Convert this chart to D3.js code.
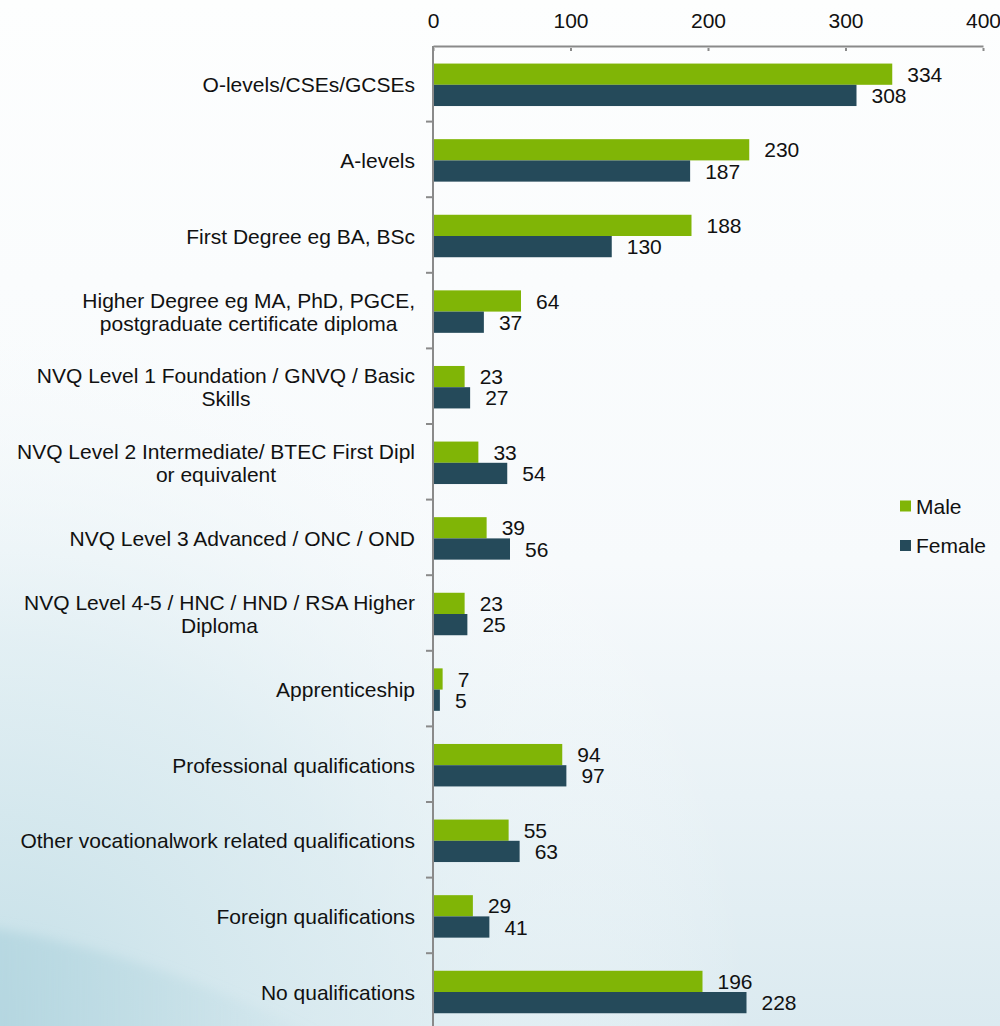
<!DOCTYPE html>
<html>
<head>
<meta charset="utf-8">
<script src="https://cdn.jsdelivr.net/npm/d3@7"></script>
<style>
  body { margin: 0; background: #fff; }
  svg { display: block; font-family: "Liberation Sans", Arial, sans-serif; }
</style>
</head>
<body>
<svg id="chart" width="1000" height="1026"></svg>
<script>
const categories = [
    ['O-levels/CSEs/GCSEs'],
    ['A-levels'],
    ['First Degree eg BA, BSc'],
    ['Higher Degree eg MA, PhD, PGCE,', 'postgraduate certificate diploma'],
    ['NVQ Level 1 Foundation / GNVQ / Basic', 'Skills'],
    ['NVQ Level 2 Intermediate/ BTEC First Dipl', 'or equivalent'],
    ['NVQ Level 3 Advanced / ONC / OND'],
    ['NVQ Level 4-5 / HNC / HND / RSA Higher', 'Diploma'],
    ['Apprenticeship'],
    ['Professional qualifications'],
    ['Other vocationalwork related qualifications'],
    ['Foreign qualifications '],
    ['No qualifications']
]
const male = [334, 230, 188, 64, 23, 33, 39, 23, 7, 94, 55, 29, 196]
const female = [308, 187, 130, 37, 27, 54, 56, 25, 5, 97, 63, 41, 228]
const seriesNames = ['Male', 'Female']
const colors = ['#80b506', '#254a5a']
const xTicks = [0, 100, 200, 300, 400]

const svg = d3.select('#chart')
const W = 1000, H = 1026
const fs = 21

// background wash
const defs = svg.append('defs')
const vg = defs.append('linearGradient')
    .attr('id', 'bgv').attr('x1', 0).attr('y1', 0).attr('x2', 0).attr('y2', 1)
vg.append('stop').attr('offset', '0').attr('stop-color', '#fdfefe')
vg.append('stop').attr('offset', '0.55').attr('stop-color', '#f7fafc')
vg.append('stop').attr('offset', '1').attr('stop-color', '#dbeaf0')
const rg = defs.append('radialGradient')
    .attr('id', 'bgr').attr('cx', 0).attr('cy', 1).attr('r', 0.75)
rg.append('stop').attr('offset', '0').attr('stop-color', '#c4dfe7').attr('stop-opacity', 1)
rg.append('stop').attr('offset', '0.5').attr('stop-color', '#dcecf1').attr('stop-opacity', 0.7)
rg.append('stop').attr('offset', '1').attr('stop-color', '#ffffff').attr('stop-opacity', 0)
const wg = defs.append('linearGradient')
    .attr('id', 'wave').attr('x1', 0).attr('y1', 0).attr('x2', 1).attr('y2', 0)
wg.append('stop').attr('offset', '0').attr('stop-color', '#a9d0db').attr('stop-opacity', 0.6)
wg.append('stop').attr('offset', '1').attr('stop-color', '#a9d0db').attr('stop-opacity', 0)
defs.append('filter').attr('id', 'soft')
    .attr('x', '-20%').attr('y', '-20%').attr('width', '140%').attr('height', '140%')
    .append('feGaussianBlur').attr('stdDeviation', 6)

svg.append('rect').attr('width', W).attr('height', H).attr('fill', 'url(#bgv)')
svg.append('rect').attr('width', W).attr('height', H).attr('fill', 'url(#bgr)')
svg.append('path')
    .attr('d', `M-20,${H + 20} L-20,926 C90,942 200,978 340,${H + 20} Z`)
    .attr('fill', 'url(#wave)')
    .attr('filter', 'url(#soft)')

const margin = { left: 433, top: 46, right: 17 }

const x = d3.scaleLinear().domain([0, 400]).range([margin.left, W - margin.right])
const y = d3.scaleBand().domain(d3.range(categories.length)).range([margin.top, margin.top + 75.6 * categories.length])
const inner = d3.scaleBand().domain([0, 1]).range([1, y.bandwidth() + 1]).paddingOuter(0.78).paddingInner(0)

// top axis
const xAxis = svg.append('g')
    .attr('transform', `translate(0,${margin.top})`)
    .call(d3.axisTop(x).tickValues(xTicks).tickSizeInner(-5).tickSizeOuter(0).tickPadding(18))
xAxis.select('.domain').attr('stroke', '#8a8a8a').attr('stroke-width', 2)
xAxis.selectAll('.tick line').attr('stroke', '#8a8a8a').attr('stroke-width', 2).attr('y1', 2)
xAxis.selectAll('.tick text').attr('font-size', fs).attr('fill', '#111')
    .attr('font-family', '"Liberation Sans", Arial, sans-serif')

// bars
const groups = svg.selectAll('g.cat')
    .data(categories.map((c, i) => ({ i, vals: [male[i], female[i]] })))
    .enter().append('g')
    .classed('cat', true)
    .attr('transform', d => `translate(0,${y(d.i)})`)

groups.selectAll('rect')
    .data(d => d.vals)
    .enter().append('rect')
    .attr('x', x(0))
    .attr('y', (d, j) => inner(j))
    .attr('width', d => x(d) - x(0))
    .attr('height', inner.bandwidth())
    .attr('fill', (d, j) => colors[j])

groups.selectAll('text.val')
    .data(d => d.vals)
    .enter().append('text')
    .classed('val', true)
    .attr('x', d => x(d) + 15)
    .attr('y', (d, j) => inner(j) + inner.bandwidth() / 2)
    .attr('dy', '0.36em')
    .attr('font-size', fs)
    .attr('fill', '#111')
    .text(d => d)

// left axis
svg.append('line')
    .attr('x1', x(0)).attr('x2', x(0))
    .attr('y1', margin.top).attr('y2', H)
    .attr('stroke', '#8a8a8a').attr('stroke-width', 2)
svg.append('g').selectAll('line')
    .data(d3.range(categories.length))
    .enter().append('line')
    .attr('x1', x(0) - 7).attr('x2', x(0))
    .attr('y1', d => y(d) + y.bandwidth()).attr('y2', d => y(d) + y.bandwidth())
    .attr('stroke', '#8a8a8a').attr('stroke-width', 2)

// category labels
const labels = svg.append('g').selectAll('text')
    .data(categories)
    .enter().append('text')
    .attr('text-anchor', 'end')
    .attr('font-size', fs)
    .attr('fill', '#111')
    .attr('transform', (d, i) => `translate(415,${y(i) + y.bandwidth() / 2 + 1 - (d.length - 1) * 11.5})`)
labels.selectAll('tspan')
    .data(d => d)
    .enter().append('tspan')
    .attr('x', 0)
    .attr('y', (d, k) => k * 23)
    .attr('dy', '0.36em')
    .text(d => d)
// second lines are centred under the first one
labels.each(function () {
    const spans = d3.select(this).selectAll('tspan').nodes()
    if (spans.length > 1) {
        const w0 = spans[0].getComputedTextLength()
        spans.slice(1).forEach(s => {
            d3.select(s).attr('text-anchor', 'middle').attr('x', -w0 / 2)
        })
    }
})

// legend
const legend = svg.append('g').attr('transform', 'translate(900,506)')
const items = legend.selectAll('g')
    .data(seriesNames)
    .enter().append('g')
    .attr('transform', (d, i) => `translate(0,${i * 39.5})`)
items.append('rect').attr('x', 0).attr('y', -5.5).attr('width', 11).attr('height', 11)
    .attr('fill', (d, i) => colors[i])
items.append('text').attr('x', 16).attr('dy', '0.36em')
    .attr('font-size', fs).attr('fill', '#111').text(d => d)
</script>
</body>
</html>
